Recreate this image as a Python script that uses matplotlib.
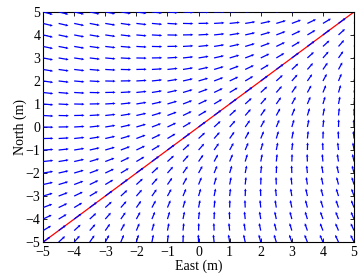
import numpy as np
import matplotlib
matplotlib.use('Agg')
import matplotlib.pyplot as plt

plt.rcParams['font.family'] = ['Liberation Serif', 'DejaVu Serif']

######## Data
## grid of sample points (m)
east_pts = np.arange(-5, 5.01, 0.5)
north_pts = np.arange(-5, 5.01, 0.5)

## straight-line path to follow
path_east = [-5, 5]
path_north = [-5, 5]

## vector field guidance parameters
path_heading_deg = 45.0     # heading of the path
chi_inf_deg = 90.0          # approach angle far from the path
k_gain = 0.3                # transition gain
arrow_len = 0.33            # drawn arrow length (m)

######## Field
E, N = np.meshgrid(east_pts, north_pts)
d = (N - E) / np.sqrt(2)    # signed distance, positive left of path
chi = np.radians(path_heading_deg) - np.radians(chi_inf_deg) * 2 / np.pi * np.arctan(k_gain * d)
U = np.cos(chi)
V = np.sin(chi)

######## Plot
fig = plt.figure(figsize=(3.62, 2.77), dpi=100)
ax = fig.add_axes([0.119, 0.126, 0.859, 0.831])

ax.plot(path_east, path_north, color='red', lw=0.9, zorder=2)
ax.quiver(E, N, U, V, color='blue', angles='xy', scale_units='xy', scale=1 / arrow_len,
          width=0.004, headwidth=2.2, headlength=2.2, headaxislength=2.0, zorder=3)

ax.set_xlim(-5, 5)
ax.set_ylim(-5, 5)
ax.set_xticks(np.arange(-5, 6, 1))
ax.set_yticks(np.arange(-5, 6, 1))
ax.tick_params(direction='in', top=True, right=True, labelsize=10, length=3, width=0.6)
ax.tick_params(axis='x', pad=3)
ax.tick_params(axis='y', pad=2)
for s in ax.spines.values():
    s.set_linewidth(0.8)
ax.set_xlabel('East (m)', fontsize=10, labelpad=0)
ax.set_ylabel('North (m)', fontsize=10, labelpad=-1)

fig.savefig('out.png', dpi=100)
